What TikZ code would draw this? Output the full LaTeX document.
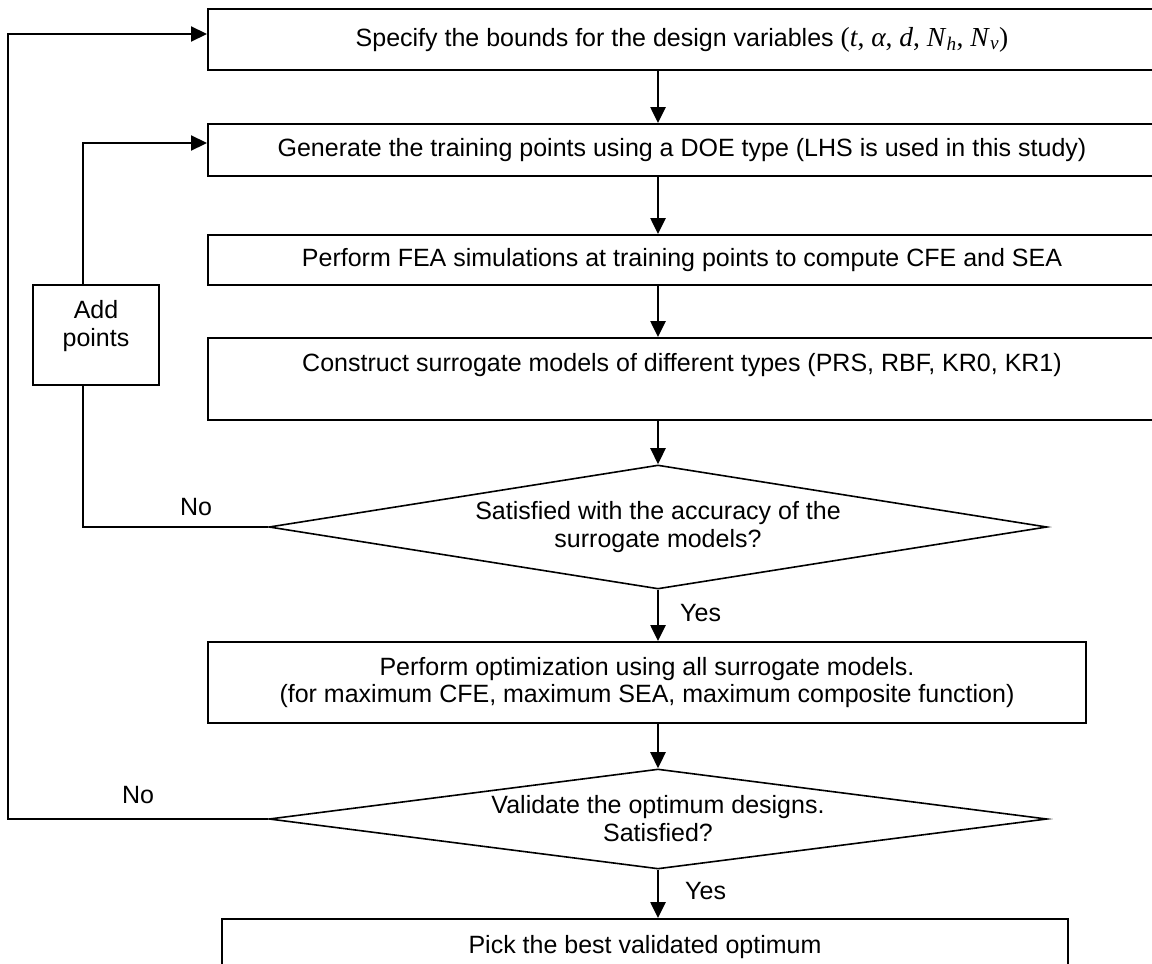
\documentclass[tikz,border=0pt]{standalone}
\usepackage{fontspec}
\setmainfont{Liberation Sans}
\newfontfamily\serifrm{Liberation Serif}
\usetikzlibrary{shapes.geometric,arrows.meta}
\begin{document}
\begin{tikzpicture}[x=1pt,y=-1pt,
  box/.style={draw, line width=2pt, inner sep=0pt, align=center, font=\fontsize{25}{27.5}\selectfont},
  dia/.style={draw, diamond, line width=1.6pt, inner sep=0pt, align=center, font=\fontsize{25}{28}\selectfont},
  tip/.style={-{Triangle[length=16pt,width=15pt]}},
  flow/.style={line width=2.6pt, tip},
  loopline/.style={line width=2.2pt},
  lbl/.style={font=\fontsize{25}{27.5}\selectfont, inner sep=0pt},
  txt/.style={font=\fontsize{25}{27.5}\selectfont, align=center, inner sep=0pt}
]
\useasboundingbox (0,0) rectangle (1152,964);
\clip (0,0) rectangle (1152,964);

\node[box, minimum width=948pt, minimum height=61pt] (box1) at (682,39.5)
  {Specify the bounds for the design variables {\serifrm\fontsize{27.5}{27.5}\selectfont(\textit{t}, \textit{α}, \textit{d}, \textit{N}\textsubscript{\textit{h}}, \textit{N}\textsubscript{\textit{v}})}};
\node[box, minimum width=948pt, minimum height=52pt] (box2) at (682,150)
  {Generate the training points using a DOE type (LHS is used in this study)};
\node[box, minimum width=948pt, minimum height=50pt] (box3) at (682,260)
  {Perform FEA simulations at training points to compute CFE and SEA};
\node[box, minimum width=948pt, minimum height=82pt] (box4) at (682,379) {};
\node[txt] (box4text) at (682,365) {Construct surrogate models of different types (PRS, RBF, KR0, KR1)};

\node[dia, minimum width=778pt, minimum height=124pt, shape aspect=6.27] (dia1) at (658,527)
  {Satisfied with the accuracy of the\\surrogate models?};

\node[box, minimum width=878pt, minimum height=81pt] (box5) at (647,682.5)
  {Perform optimization using all surrogate models.\\(for maximum CFE, maximum SEA, maximum composite function)};

\node[dia, minimum width=778pt, minimum height=100pt, shape aspect=7.77] (dia2) at (658,819)
  {Validate the optimum designs.\\Satisfied?};

\node[box, minimum width=846pt, minimum height=56pt] (box6) at (645,947)
  {Pick the best validated optimum};

\node[box, minimum width=126pt, minimum height=100pt, line width=1.8pt] (addp) at (96,335) {};
\node[txt] (addptext) at (96,326) {Add\\points};

% main flow
\draw[flow] (box1.south -| dia1.north) -- (box2.north -| dia1.north);
\draw[flow] (box2.south -| dia1.north) -- (box3.north -| dia1.north);
\draw[flow] (box3.south -| dia1.north) -- (box4.north -| dia1.north);
\draw[flow] (box4.south -| dia1.north) -- (dia1.north);
\draw[flow] (dia1.south) -- (box5.north -| dia1.south);
\draw[flow] (box5.south -| dia2.north) -- (dia2.north);
\draw[flow] (dia2.south) -- (box6.north -| dia2.south);

% inner loop
\coordinate (ix) at (83,0);
\coordinate (b2in) at ([yshift=7pt]box2.west);
\draw[loopline] (dia1.west) -| (ix |- addp.south);
\draw[loopline, tip] (ix |- addp.north) |- (b2in);

% outer loop
\coordinate (ox) at (8,0);
\coordinate (b1in) at ([yshift=5.5pt]box1.west);
\draw[loopline, tip] (dia2.west) -| (ox |- b1in) -- (b1in);

% labels
\node[lbl] (no1) at (196,507) {No};
\node[lbl] (no2) at (138,795) {No};
\node[lbl, anchor=west] (yes1) at (680,613) {Yes};
\node[lbl, anchor=west] (yes2) at (685,891) {Yes};
\end{tikzpicture}
\end{document}
